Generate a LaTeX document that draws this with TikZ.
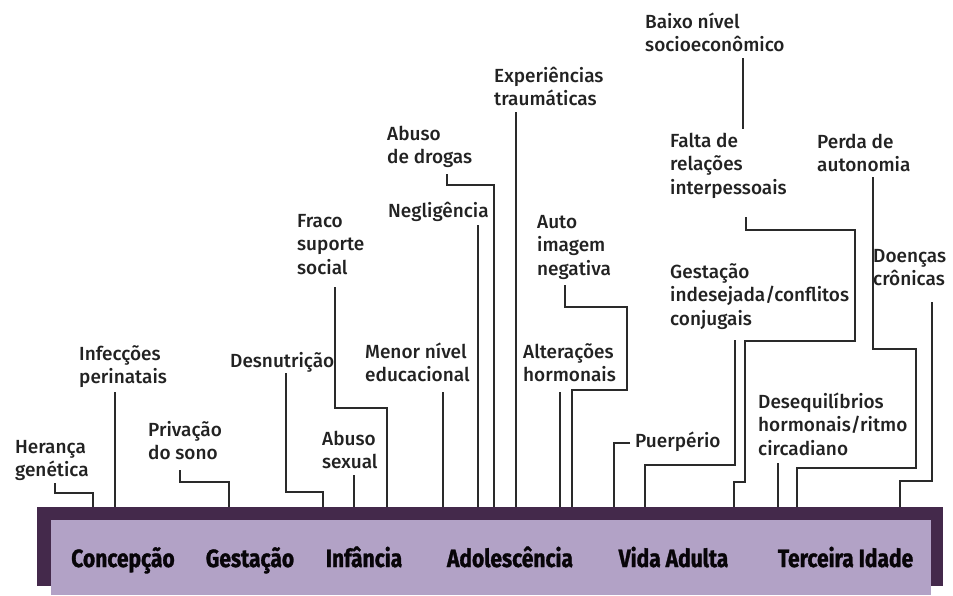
\documentclass[tikz,border=0pt]{standalone}
\usepackage{fontspec}
\setmainfont{Fira Sans}
\newfontfamily\labfam{Fira Sans}[UprightFont={* Medium}]
\newfontfamily\barfam{Fira Sans}[FakeStretch=0.84, BoldFeatures={FakeBold=1.2}]
\definecolor{barDark}{HTML}{44294B}
\definecolor{barLight}{HTML}{B2A2C6}
\definecolor{ink}{HTML}{222222}
\definecolor{lineC}{HTML}{2A2A2A}
\newcommand{\labfont}{\labfam\fontsize{19}{23.5}\selectfont}
\newcommand{\stagefont}{\barfam\bfseries\fontsize{25}{29}\selectfont}
\tikzset{
  lab/.style={anchor=north west, inner sep=0pt, align=left, font=\labfont, text=ink, yshift=16.45pt},
  stage/.style={anchor=base, inner sep=0pt, font=\stagefont, text=black!88!barDark},
  conn/.style={draw=lineC, line width=1.6pt, line join=miter}
}
\begin{document}
\begin{tikzpicture}[x=1pt,y=-1pt]
\useasboundingbox (0,0) rectangle (953,595);
% bar
\node[fill=barDark, minimum width=906pt, minimum height=79pt, inner sep=0pt, outer sep=0pt, anchor=north west] (bar) at (37,507) {};
\node[fill=barLight, minimum width=880pt, minimum height=75pt, inner sep=0pt, outer sep=0pt, anchor=north west] (band) at (51,520) {};
% stages
\node[stage] (s1) at (123,567) {Concepção};
\node[stage] (s2) at (250,567) {Gestação};
\node[stage] (s3) at (364,567) {Infância};
\node[stage] (s4) at (510,567) {Adolescência};
\node[stage] (s5) at (673.5,567) {Vida Adulta};
\node[stage] (s6) at (845.5,567) {Terceira Idade};
% labels
\node[lab] (her) at (15,453) {\strut Herança\\genética};
\node[lab] (inf) at (79,360) {\strut Infecções\\perinatais};
\node[lab] (pri) at (148,436) {\strut Privação\\do sono};
\node[lab] (des) at (230,367) {\strut Desnutrição};
\node[lab] (abs) at (322,445) {\strut Abuso\\sexual};
\node[lab] (fra) at (297,227) {\strut Fraco\\suporte\\social};
\node[lab] (men) at (365,358) {\strut Menor nível\\educacional};
\node[lab] (neg) at (388,217) {\strut Negligência};
\node[lab] (dro) at (387,140) {\strut Abuso\\de drogas};
\node[lab] (exp) at (494,82) {\strut Experiências\\traumáticas};
\node[lab] (aut) at (537,228) {\strut Auto\\imagem\\negativa};
\node[lab] (alt) at (523,358) {\strut Alterações\\hormonais};
\node[lab] (bai) at (645,28) {\strut Baixo nível\\socioeconômico};
\node[lab] (fal) at (670,147) {\strut Falta de\\relações\\interpessoais};
\node[lab] (per) at (817,148) {\strut Perda de\\autonomia};
\node[lab] (doe) at (873,262) {\strut Doenças\\crônicas};
\node[lab] (ges) at (670,278) {\strut Gestação\\indesejada/conflitos\\conjugais};
\node[lab] (deq) at (758,408) {\strut Desequilíbrios\\hormonais/ritmo\\circadiano};
\node[lab] (pue) at (635,447) {\strut Puerpério};
% connectors
\draw[conn] (55,483) |- (93,493) -- (93,0 |- bar.north);
\draw[conn] (115,392) -- (115,0 |- bar.north);
\draw[conn] (180,470) |- (229,482) -- (229,0 |- bar.north);
\draw[conn] (286,373) |- (323,492) -- (323,0 |- bar.north);
\draw[conn] (354,475) -- (354,0 |- bar.north);
\draw[conn] (335,287) |- (387,408) -- (387,0 |- bar.north);
\draw[conn] (443,392) -- (443,0 |- bar.north);
\draw[conn] (478,225) -- (478,0 |- bar.north);
\draw[conn] (447,174) |- (494,185) -- (494,0 |- bar.north);
\draw[conn] (516,112) -- (516,0 |- bar.north);
\draw[conn] (565,285) |- (627,307) |- (572,390) -- (572,0 |- bar.north);
\draw[conn] (560,392) -- (560,0 |- bar.north);
\draw[conn] (630,443) -| (614,0 |- bar.north);
\draw[conn] (735,340) |- (645,465) -- (645,0 |- bar.north);
\draw[conn] (743,58) -- (743,129);
\draw[conn] (746,217) |- (855,230) |- (745,341) |- (734,482) -- (734,0 |- bar.north);
\draw[conn] (778,463) -- (778,0 |- bar.north);
\draw[conn] (873,177) |- (916,349) |- (797,468) -- (797,0 |- bar.north);
\draw[conn] (932,302) |- (900,481) -- (900,0 |- bar.north);
\end{tikzpicture}
\end{document}
